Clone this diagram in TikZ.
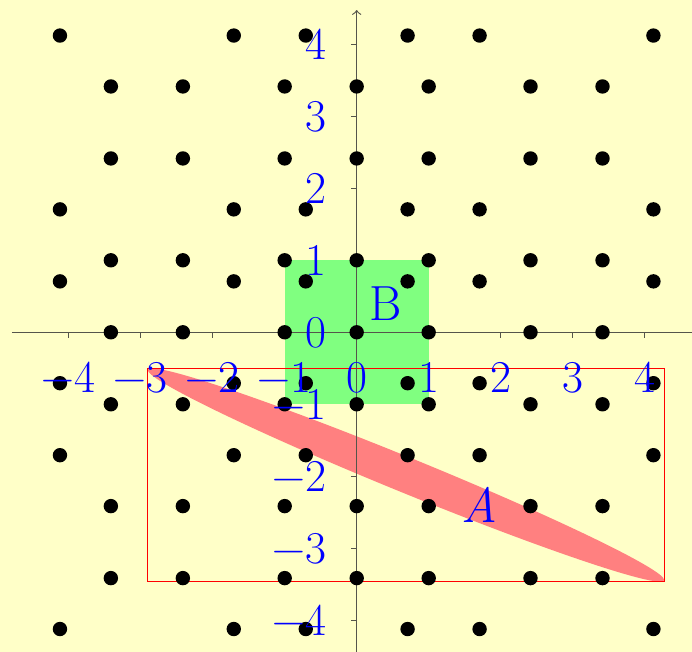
\documentclass[tikz,border=0pt]{standalone}
\definecolor{bgyellow}{RGB}{255,255,200}
\definecolor{boxgreen}{RGB}{128,255,128}
\definecolor{ellred}{RGB}{255,128,128}
\definecolor{axisgray}{RGB}{85,85,75}
\begin{document}
\begin{tikzpicture}[
  dot/.style={fill=black},
  ticklabel/.style={text=blue, inner sep=0pt, text depth=0pt, font=\fontsize{18}{20}\selectfont},
  setlabel/.style={text=blue, inner sep=0pt, font=\fontsize{19.5}{22}\selectfont},
  axisline/.style={draw=axisgray, line width=0.45pt},
  boxline/.style={draw=red, line width=0.5pt},
]
\fill[bgyellow] (-4.954,-4.44) rectangle (4.657,4.615);
\useasboundingbox (-4.954,-4.44) rectangle (4.657,4.615);
\clip (-4.954,-4.44) rectangle (4.657,4.615);
% set B
\fill[boxgreen] (-1,-1) rectangle (1,1);
% set A
\fill[ellred, cm={3.5875,-1.4583,0,0.2638,(0.6845,-1.982)}] (0,0) circle (1);
\draw[boxline] (-2.903,-0.5) rectangle (4.272,-3.464);
% axes
\coordinate (xl) at (-4.79,0);
\coordinate (xr) at (4.8,0);
\coordinate (yb) at (0,-4.8);
\coordinate (yt) at (0,4.476);
\draw[axisline,->] (xl) -- (xr);
\draw[axisline,->] (yb) -- (yt);
\foreach \i in {-4,-3,-2,-1,1,2,3,4}{
  \draw[axisline] (\i,0) -- (\i,-0.085);
  \draw[axisline] (0,\i) -- (-0.085,\i);
}
% points
\foreach \x in {0,1,-1,2.41421,-2.41421,3.41421,-3.41421}{
  \foreach \y in {0,1,-1,2.41421,-2.41421,3.41421,-3.41421}{
    \fill[dot] (\x,\y) circle (0.1);
  }
}
\foreach \x in {0.70711,-0.70711,1.70711,-1.70711,4.12132,-4.12132}{
  \foreach \y in {0.70711,-0.70711,1.70711,-1.70711,4.12132,-4.12132}{
    \fill[dot] (\x,\y) circle (0.1);
  }
}
% tick labels
\foreach \i/\t in {-4/−4,-3/−3,-2/−2,-1/−1,0/0,1/1,2/2,3/3,4/4}{
  \node[ticklabel, anchor=north] (xt\i) at (\i,-0.41) {\t};
  \node[ticklabel, anchor=east] (yt\i) at (-0.41,\i) {\t};
}
\node[setlabel] (labB) at (0.40,0.40) {B};
\node[setlabel] (labA) at (1.70,-2.40) {\itshape A};
\end{tikzpicture}
\end{document}
